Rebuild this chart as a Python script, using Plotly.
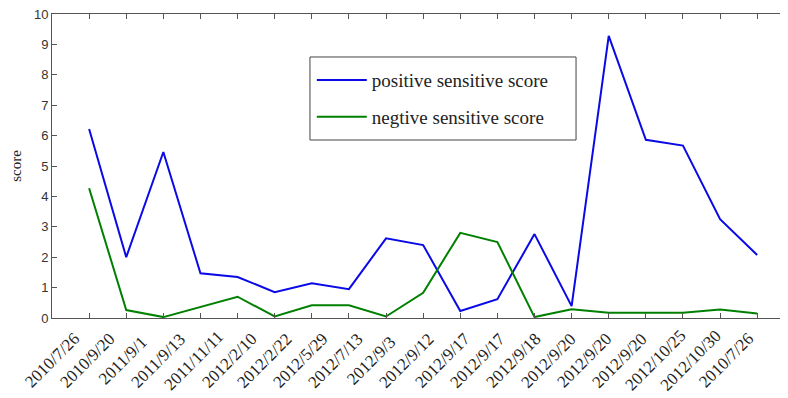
import plotly.graph_objects as go

# ---- data ----
date_labels = ["2010/7/26", "2010/9/20", "2011/9/1", "2011/9/13", "2011/11/11",
               "2012/2/10", "2012/2/22", "2012/5/29", "2012/7/13", "2012/9/3",
               "2012/9/12", "2012/9/17", "2012/9/17", "2012/9/18", "2012/9/20",
               "2012/9/20", "2012/9/20", "2012/10/25", "2012/10/30", "2010/7/26"]
point_index = list(range(1, 20))
positive_score = [6.22, 2.00, 5.46, 1.47, 1.35, 0.85, 1.14, 0.95, 2.62, 2.40,
                  0.23, 0.62, 2.76, 0.39, 9.28, 5.86, 5.67, 3.25, 2.07]
negative_score = [4.27, 0.26, 0.03, 0.36, 0.70, 0.05, 0.42, 0.42, 0.05, 0.83,
                  2.80, 2.50, 0.03, 0.29, 0.17, 0.17, 0.17, 0.28, 0.15]
y_ticks = list(range(0, 11))

AXIS = "#555555"
SERIF = "Liberation Serif"

fig = go.Figure()
fig.add_trace(go.Scatter(x=point_index, y=positive_score, mode="lines",
                         name="positive sensitive score", legendgroup="a",
                         line=dict(color="rgb(10,10,230)", width=2)))
fig.add_trace(go.Scatter(x=point_index, y=negative_score, mode="lines",
                         name="negtive sensitive score", legendgroup="b",
                         line=dict(color="rgb(0,128,0)", width=2)))

# rotated date labels (centred, MATLAB style)
label_step = 0.956
annotations = []
for k, lab in enumerate(date_labels):
    annotations.append(dict(x=k * label_step, y=-0.14, xref="x", yref="paper",
                            text=lab, textangle=-45, showarrow=False,
                            xanchor="center", yanchor="middle",
                            font=dict(family=SERIF, size=17, color="#222222")))

# the page body has an 8px margin, so the figure is drawn 8px smaller
fig.update_layout(
    width=780, height=390,
    margin=dict(l=44, r=0, t=6, b=80, autoexpand=False),
    paper_bgcolor="white", plot_bgcolor="white",
    showlegend=True,
    legend=dict(x=0.353, y=0.845, xanchor="left", yanchor="top",
                bgcolor="rgba(0,0,0,0)", borderwidth=0,
                font=dict(family=SERIF, size=19, color="#222222"),
                tracegroupgap=9, itemwidth=50),
    annotations=annotations,
    shapes=[dict(type="rect", xref="paper", yref="paper",
                 x0=0.3505, x1=0.712, y0=0.5855, y1=0.8586,
                 line=dict(color="#444444", width=1))],
    xaxis=dict(range=[0, 19.83], tickvals=list(range(0, 20)), showticklabels=False,
               ticks="inside", ticklen=5, tickcolor=AXIS, showline=True,
               linecolor=AXIS, linewidth=1, mirror="ticks", showgrid=False,
               zeroline=False, automargin=False),
    yaxis=dict(range=[0, 10], tickvals=y_ticks, ticks="inside", ticklen=5,
               tickcolor=AXIS, showline=True, linecolor=AXIS, linewidth=1,
               mirror="ticks", showgrid=False, zeroline=False, automargin=False,
               ticklabeloverflow="allow",
               tickfont=dict(family="Liberation Sans", size=13, color="#333333"),
               title=dict(text="score", standoff=15,
                          font=dict(family=SERIF, size=15, color="#222222"))),
)

fig.write_html("out.html")
